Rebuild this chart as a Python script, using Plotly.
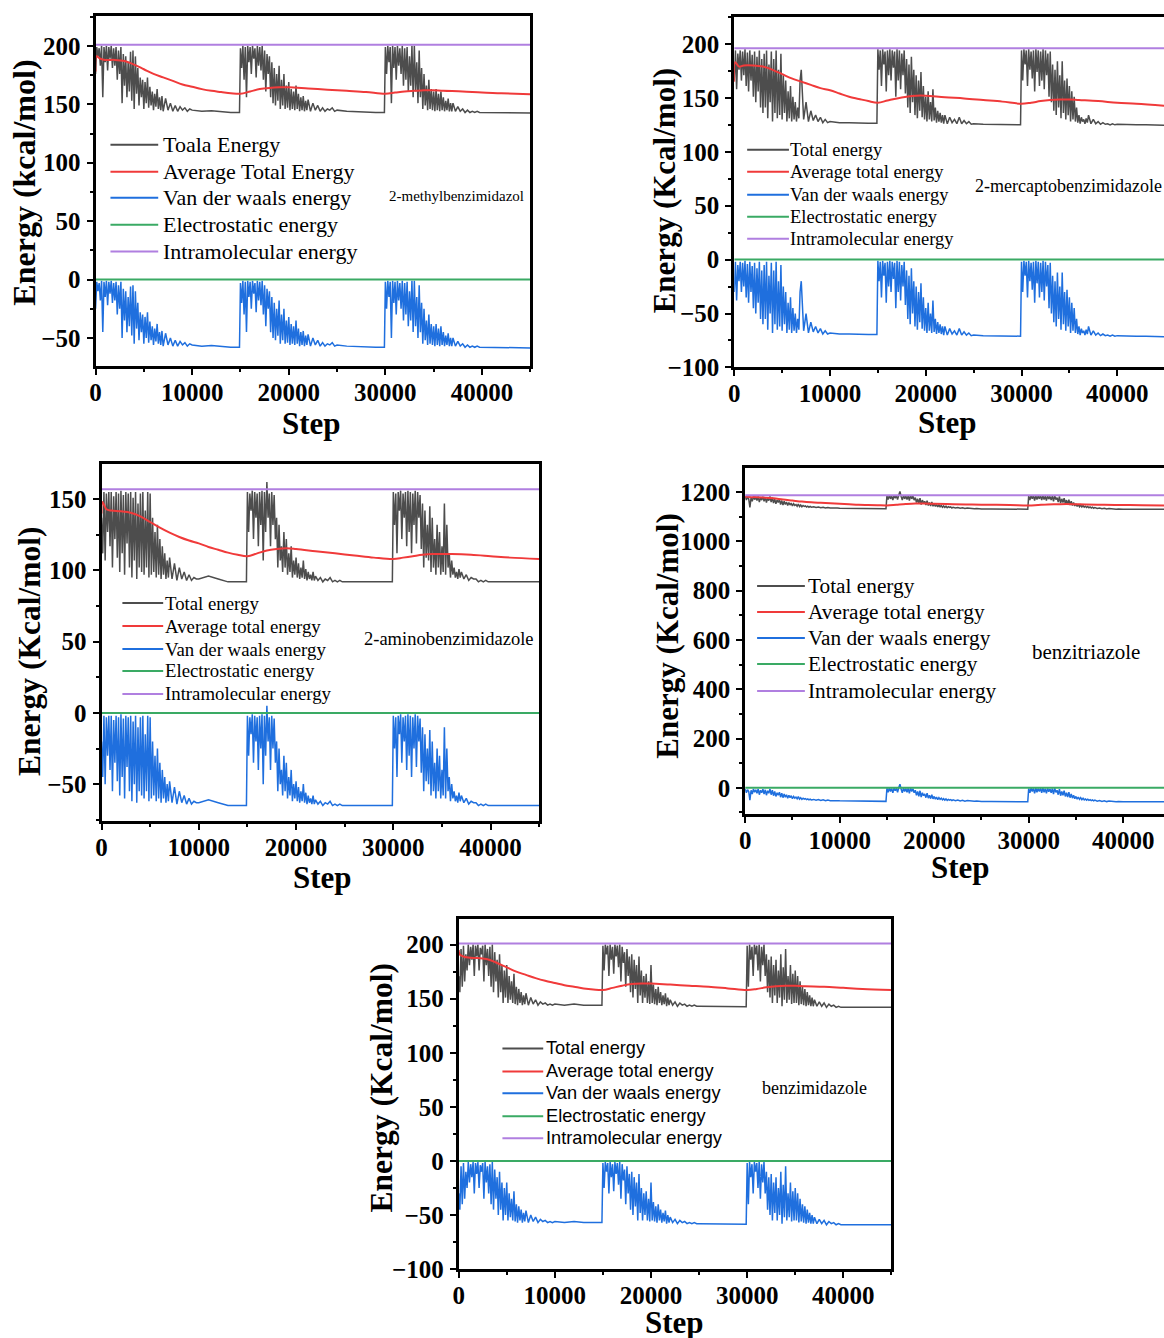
import plotly.graph_objects as go

W, H = 1164, 1338          # reference canvas (all positions below are in these pixels)
FIG_H = 1350               # page height used so the photographed canvas lands on 1338 rows

# ---------------- data ----------------
cycle_starts = [0, 15000, 30000]
noisy_offsets = list(range(0, 7000, 125)) + list(range(7000, 10000, 250))
flat_offsets = [10000, 11000, 12000, 13000, 14000, 14900]
steps = [c + o for c in cycle_starts for o in noisy_offsets + flat_offsets] + [45000]

avg_steps = [0, 100, 500, 1000, 2000, 3000, 4000, 5000, 6000, 7000, 8000, 9000, 10000,
             11000, 12000, 13000, 14000, 15000, 16000, 17000, 18000, 19000, 20000, 22000,
             24000, 26000, 28000, 30000, 31000, 32000, 33000, 34000, 35000, 36000, 38000,
             40000, 42000, 45000]
const_steps = [0, 45000]

# Van der Waals energy (kcal/mol), read per panel
vdw_p1 = [
    -25, -2, -10, -3, -18, -1, -45, -2, -15, -1, -22, -2, -12, -1, -20, -3,
    -18, -2, -30, -5, -25, -2, -50, -8, -35, -10, -45, -15, -40, -6, -48, -5,
    -55, -10, -42, -20, -52, -28, -45, -30, -55, -32, -50, -28, -54, -36, -52, -40,
    -56, -42, -53, -38, -55, -45, -56, -44,
    -57, -46, -56, -50, -57, -52, -57, -53, -56, -54, -57, -55,
    -56, -57, -56.5, -57.5, -58, -58,
    -3, -20, -1, -30, -2, -45, -1, -15, -2, -25, -1, -12, -3, -28, -1, -18,
    -2, -22, -1, -30, -5, -40, -8, -25, -10, -45, -15, -50, -20, -52, -25, -48,
    -18, -55, -30, -52, -25, -55, -35, -54, -32, -56, -38, -55, -40, -56, -35, -55,
    -42, -57, -45, -56, -44, -57, -48, -56,
    -47, -57, -50, -56, -52, -57, -54, -57, -55, -56, -54, -57,
    -56, -57, -57.5, -58, -58, -58,
    -2, -25, -1, -15, -2, -50, -1, -20, -2, -30, -1, -18, -3, -25, -1, -35,
    -3, -30, -2, -40, -10, -35, -1, -45, -1, -40, -15, -50, -5, -45, -20, -55,
    -25, -52, -35, -56, -30, -55, -38, -56, -40, -57, -38, -56, -42, -57, -40, -56,
    -45, -57, -48, -56, -46, -57, -50, -57,
    -50, -57, -53, -57, -55, -58, -56, -58, -57, -58, -57, -58,
    -58, -58, -58.5, -58.5, -58.5, -58.5,
    -58.5]
vdw_p2 = [
    -30, -2, -38, -5, -20, -2, -30, -3, -25, -1, -35, -4, -40, -2, -30, -6,
    -45, -3, -50, -8, -40, -2, -55, -10, -60, -5, -55, -2, -65, -15, -50, -3,
    -68, -10, -60, -2, -65, -20, -62, -5, -66, -25, -60, -30, -68, -40, -65, -35,
    -68, -45, -66, -50, -68, -55, -65, -30,
    -20, -66, -50, -68, -58, -67, -62, -68, -64, -69, -66, -69,
    -68, -69, -69, -69.5, -69.5, -69.5,
    -1, -20, -2, -35, -1, -15, -3, -40, -2, -25, -1, -30, -2, -18, -3, -45,
    -1, -30, -2, -38, -5, -25, -2, -42, -10, -55, -15, -60, -8, -50, -20, -62,
    -25, -65, -30, -58, -22, -64, -35, -66, -45, -68, -40, -66, -50, -68, -38, -67,
    -55, -69, -58, -68, -60, -69, -62, -70,
    -62, -70, -64, -69, -66, -70, -64, -70, -67, -70, -68, -70.5,
    -70, -70.5, -70.5, -71, -71, -71,
    -2, -30, -1, -15, -2, -35, -1, -20, -3, -28, -2, -40, -1, -22, -2, -35,
    -3, -30, -1, -38, -2, -25, -5, -45, -3, -50, -15, -58, -20, -62, -12, -55,
    -25, -65, -12, -60, -30, -66, -28, -62, -35, -68, -40, -66, -45, -68, -55, -69,
    -62, -70, -64, -68, -66, -70, -65, -69,
    -62, -70, -66, -70, -68, -70.5, -69, -70.5, -70, -71, -70, -71,
    -70.5, -71, -71, -71, -71.5, -71.5,
    -71.5]
vdw_p3 = [
    -20, -45, -2, -50, -3, -30, -2, -40, -2, -55, -5, -35, -2, -48, -3, -58,
    -1, -45, -4, -60, -2, -38, -3, -55, -2, -62, -6, -50, -2, -63, -10, -55,
    -3, -58, -2, -60, -15, -55, -2, -62, -3, -60, -20, -58, -30, -62, -25, -60,
    -35, -63, -40, -60, -45, -63, -50, -62,
    -48, -63, -52, -64, -55, -63, -58, -64, -60, -64, -62, -63,
    -63, -61, -63, -65, -65, -65,
    -2, -30, -3, -15, -1, -35, -2, -20, -3, -40, -2, -25, -1, -50, -2, -30,
    5, -20, -3, -40, -2, -25, -4, -35, -20, -55, -25, -50, -40, -58, -30, -55,
    -35, -60, -45, -58, -40, -62, -50, -60, -48, -62, -52, -63, -55, -62, -50, -63,
    -56, -64, -58, -63, -60, -64, -58, -64,
    -61, -64, -62, -65, -63, -64, -62, -65, -64, -65, -64, -65,
    -65, -65, -65, -65, -65, -65,
    -2, -25, -3, -45, -2, -15, -1, -35, -3, -20, -2, -40, -1, -30, -2, -45,
    -3, -25, -1, -38, -2, -20, -4, -42, -10, -55, -15, -48, -25, -50, -12, -58,
    -20, -55, -35, -60, -25, -55, -30, -60, -40, -58, -10, -60, -25, -55, -45, -62,
    -50, -60, -55, -62, -58, -63, -56, -62,
    -58, -63, -60, -64, -62, -63, -63, -65, -64, -65, -64, -65,
    -65, -65, -65, -65, -65, -65,
    -65]
vdw_p4 = [
    -5, -20, -8, -15, -50, -10, -25, -5, -18, -8, -22, -5, -28, -10, -20, -6,
    -25, -8, -30, -12, -22, -5, -28, -10, -32, -15, -35, -20, -30, -18, -38, -22,
    -40, -25, -38, -28, -42, -30, -40, -32, -44, -35, -42, -38, -45, -36, -46, -40,
    -47, -42, -46, -44, -48, -45, -49, -46,
    -49, -47, -50, -48, -51, -49, -52, -50, -52, -51, -53, -52,
    -53, -54, -54, -55, -55, -55,
    -2, -18, 0, -15, -3, -20, -1, -12, -2, -18, 0, 15, -5, -20, -1, -15,
    -3, -18, -2, -22, 0, -15, -4, -20, -10, -30, -15, -35, -12, -38, -20, -32,
    -25, -40, -22, -42, -30, -44, -28, -45, -35, -46, -38, -48, -40, -47, -42, -49,
    -44, -50, -45, -51, -47, -50, -48, -52,
    -49, -52, -50, -53, -51, -54, -52, -54, -53, -55, -54, -56,
    -56, -56, -57, -57, -57, -57,
    -3, -20, -1, -15, -2, -22, -1, -18, -3, -15, -2, -20, -1, -18, -4, -22,
    -2, -16, -5, -20, -3, -25, -2, -18, -10, -28, -5, -32, -15, -30, -12, -35,
    -20, -38, -18, -40, -25, -42, -30, -44, -35, -46, -38, -47, -40, -48, -42, -49,
    -45, -50, -46, -51, -48, -52, -49, -53,
    -50, -54, -52, -55, -53, -56, -54, -56, -55, -57, -56, -57,
    -57, -57, -57, -57, -57, -57,
    -57]
vdw_p5 = [
    -30, -45, -5, -40, -2, -35, -10, -25, -1, -20, -3, -15, -1, -30, -2, -12,
    -1, -25, -4, -10, -2, -35, -1, -20, -5, -30, -3, -40, -1, -45, -8, -35,
    -15, -50, -10, -45, -20, -55, -25, -50, -20, -55, -30, -52, -35, -55, -28, -56,
    -40, -57, -42, -55, -45, -57, -48, -56,
    -46, -57, -50, -56, -52, -57, -54, -56, -55, -57, -56, -57,
    -56, -57, -56, -57, -57, -57,
    -2, -25, -1, -10, -2, -30, -1, -15, -3, -28, -1, -12, -2, -22, -1, -35,
    -3, -18, -8, -40, -5, -30, -12, -45, -10, -50, -15, -42, -20, -55, -12, -48,
    -25, -55, -30, -50, -28, -55, -35, -56, -20, -55, -38, -56, -42, -57, -40, -55,
    -45, -57, -48, -56, -46, -58, -50, -57,
    -52, -57, -54, -58, -55, -57, -56, -58, -57, -58, -57, -58,
    -58, -58, -58.5, -58.5, -58.5, -58.5,
    -2, -40, -1, -15, -3, -30, -1, -10, -2, -25, -1, -35, -3, -20, -1, -30,
    -10, -45, -15, -50, -12, -55, -20, -48, -15, -55, -25, -50, -10, -58, -22, -52,
    -5, -55, -30, -52, -20, -56, -28, -55, -25, -55, -30, -57, -35, -56, -40, -57,
    -42, -58, -45, -57, -48, -58, -50, -58,
    -52, -58, -54, -58, -55, -59, -56, -58, -57, -59, -58, -59,
    -59, -59, -59, -59, -59, -59,
    -59]

# Average total energy per panel
avg_p1 = [178, 191, 189, 188, 188, 187, 184, 180, 176, 173, 170, 167, 165, 163, 161.5, 160.5, 159.5,
          159, 161, 163, 164, 164.5, 164.5, 163.5, 162.5, 161.5, 160.5, 159, 160, 161, 161.5, 162, 162,
          161.5, 161, 160, 159.5, 158.5]
avg_p2 = [165, 183, 179, 180, 180, 179, 176, 172, 168, 165, 162, 159, 157, 154, 151, 149, 147, 145.5,
          147.5, 149.5, 151, 152, 152, 150.5, 149.5, 148, 146.5, 144.5, 145.5, 147, 148, 148.5, 148.5,
          148, 147, 145.5, 144.5, 142.5]
avg_p3 = [140, 148, 143, 142, 141.5, 140.5, 138, 134, 130, 126.5, 123.5, 121, 119, 116.5, 114.5, 112.5,
          111, 110, 112, 114, 115, 115.5, 115, 113.5, 112, 110.5, 109, 108, 109, 110, 111, 111.5, 111.5,
          111.5, 111, 110, 109, 108]
avg_p4 = [1178, 1182, 1180, 1180, 1178, 1175, 1170, 1166, 1162, 1159, 1157, 1155, 1153, 1151, 1149,
          1148, 1147, 1146, 1149, 1152, 1154, 1154, 1153, 1151, 1150, 1149, 1148, 1146, 1148, 1150, 1151,
          1152, 1151, 1150, 1149, 1148, 1147, 1146]
avg_p5 = [195, 191, 189, 188, 187.5, 186.5, 183, 179, 175, 172, 169, 166.5, 164.5, 162.5, 161, 159.5,
          158.5, 158, 160, 162, 163.5, 164, 164, 163, 162, 161, 159.5, 158, 159, 160.5, 161.5, 162, 162,
          161.5, 161, 160, 159, 158]

# constant components
intra_vals = [201, 196, 157, 1188, 201]
elec_vals = [0, 0, 0, 0, 0]

labels_p1 = ["Toala Energy", "Average Total Energy", "Van der waals energy",
             "Electrostatic energy", "Intramolecular energy"]
labels_std = ["Total energy", "Average total energy", "Van der waals energy",
              "Electrostatic energy", "Intramolecular energy"]
compound_names = ["2-methylbenzimidazol", "2-mercaptobenzimidazole", "2-aminobenzimidazole",
                  "benzitriazole", "benzimidazole"]
y_titles = ["Energy (kcal/mol)", "Energy (Kcal/mol)", "Energy (Kcal/mol)",
            "Energy (Kcal/mol)", "Energy (Kcal/mol)"]
y_dticks = [50, 50, 50, 200, 50]

vdw_all = [vdw_p1, vdw_p2, vdw_p3, vdw_p4, vdw_p5]
avg_all = [avg_p1, avg_p2, avg_p3, avg_p4, avg_p5]

# ---------------- layout geometry (reference pixels) ----------------
SERIF = "Liberation Serif"
SANS = "Liberation Sans"
colors = ["#4d4d4d", "#f03a3a", "#1f6fde", "#3aaa64", "#b07fe0"]

panels = [
    dict(box=(90, 527, 16, 367), xr=[0, 45000], yr=[-74.4, 225.6], right=True,
         leg_line=(105, 153), leg_text=156, leg_rows=[145, 172, 198, 225, 252], legfont=22,
         legfam=SERIF, name=(453, 196, "center"), namesize=15, ytitle=(18, 183), ysize=32,
         xtitle=(307, 424, "middle", 0)),
    dict(box=(732, 1164, 17, 368), xr=[0, 44880], yr=[-100, 225], right=False,
         leg_line=(745, 787), leg_text=786, leg_rows=[150, 172, 195, 217, 239], legfont=18.5,
         legfam=SERIF, name=(1164, 186, "right"), namesize=18, ytitle=(662, 191), ysize=31,
         xtitle=(946, 423, "middle", 0)),
    dict(box=(96, 536, 465, 822), xr=[0, 45000], yr=[-75.7, 174.5], right=True,
         leg_line=(117, 158), leg_text=158, leg_rows=[604, 627, 650, 672, 695], legfont=18.8,
         legfam=SERIF, name=(445, 640, "center"), namesize=18.5, ytitle=(23, 652), ysize=31.5,
         xtitle=(318, 879, "middle", 0)),
    dict(box=(743, 1164, 469, 815), xr=[0, 44316], yr=[-105.4, 1297], right=False,
         leg_line=(755, 803), leg_text=804, leg_rows=[587, 613, 639, 665, 692], legfont=21.3,
         legfam=SERIF, name=(1086, 653, "center"), namesize=21, ytitle=(664, 637), ysize=31,
         xtitle=(959, 869, "middle", 0)),
    dict(box=(455, 890, 920, 1271), xr=[0, 45000], yr=[-100, 224], right=True,
         leg_line=(499, 540), leg_text=541, leg_rows=[1050, 1073, 1095, 1118, 1140], legfont=18.2,
         legfam=SANS, name=(813, 1090, "center"), namesize=18, ytitle=(377, 1090), ysize=31.5,
         xtitle=(672, 1338, "bottom", -6)),
]

fig = go.Figure()
annotations = []
shapes = []


def px(x):
    return x / W


def py(y):
    return 1 - y / H


for i, p in enumerate(panels):
    k = i + 1
    xa = "x" if k == 1 else f"x{k}"
    ya = "y" if k == 1 else f"y{k}"
    names = labels_p1 if k == 1 else labels_std
    vdw = vdw_all[i]
    total = [v + elec_vals[i] + intra_vals[i] for v in vdw]

    series = [
        (steps, total, colors[0], 1.5, "linear"),
        (avg_steps, avg_all[i], colors[1], 2, "spline"),
        (steps, vdw, colors[2], 1.5, "linear"),
        (const_steps, [elec_vals[i]] * 2, colors[3], 2, "linear"),
        (const_steps, [intra_vals[i]] * 2, colors[4], 2, "linear"),
    ]
    for (xs, ys, col, lw, shp), nm in zip(series, names):
        fig.add_trace(go.Scatter(x=xs, y=ys, mode="lines", name=nm, showlegend=False,
                                 line=dict(color=col, width=lw, shape=shp),
                                 xaxis=xa, yaxis=ya, hoverinfo="skip"))

    x0, x1, y0, y1 = p["box"]
    tickfont = dict(family=SERIF, size=25, color="black", weight="bold")
    axis_common = dict(showgrid=False, zeroline=False, showline=True, linecolor="black",
                       linewidth=3, ticks="outside", ticklen=6, tickwidth=2, tickcolor="black",
                       tickfont=tickfont)
    fig.layout["xaxis" if k == 1 else f"xaxis{k}"] = dict(
        domain=[px(x0), px(x1)], range=p["xr"], anchor=ya, mirror=True,
        tick0=0, dtick=10000, tickformat="d", ticklabelstandoff=-4,
        minor=dict(dtick=5000, ticks="outside", ticklen=3, tickwidth=2, tickcolor="black"),
        **axis_common)
    fig.layout["yaxis" if k == 1 else f"yaxis{k}"] = dict(
        domain=[py(y1), py(y0)], range=p["yr"], anchor=xa, mirror=p["right"],
        tick0=0, dtick=y_dticks[i], ticklabelstandoff=1,
        minor=dict(dtick=y_dticks[i] / 2, ticks="outside", ticklen=3, tickwidth=2,
                   tickcolor="black"),
        **axis_common)

    # legend drawn as line samples + text labels
    lx0, lx1 = p["leg_line"]
    for row, nm, col in zip(p["leg_rows"], names, colors):
        shapes.append(dict(type="line", xref="paper", yref="paper",
                           x0=px(lx0), x1=px(lx1), y0=py(row), y1=py(row),
                           line=dict(color=col, width=2)))
        annotations.append(dict(text=nm, x=px(p["leg_text"]), y=py(row), xref="paper",
                                yref="paper", showarrow=False, xanchor="left",
                                yanchor="middle",
                                font=dict(family=p["legfam"], size=p["legfont"],
                                          color="black")))

    nx, ny, nanchor = p["name"]
    annotations.append(dict(text=compound_names[i], x=px(nx), y=py(ny),
                            xref="paper", yref="paper", showarrow=False,
                            xanchor=nanchor, yanchor="middle",
                            font=dict(family=SERIF, size=p["namesize"], color="black")))
    tx, ty = p["ytitle"]
    annotations.append(dict(text=y_titles[i], x=px(tx), y=py(ty),
                            xref="paper", yref="paper", showarrow=False,
                            textangle=-90, xanchor="center", yanchor="middle",
                            font=dict(family=SERIF, size=p["ysize"], color="black",
                                      weight="bold")))
    sx, sy, sanchor, sshift = p["xtitle"]
    annotations.append(dict(text="Step", x=px(sx), y=py(sy), yshift=sshift,
                            xref="paper", yref="paper", showarrow=False,
                            xanchor="center", yanchor=sanchor,
                            font=dict(family=SERIF, size=31, color="black", weight="bold")))

fig.update_layout(width=W, height=FIG_H, margin=dict(l=0, r=0, t=0, b=0),
                  paper_bgcolor="white", plot_bgcolor="white", showlegend=False,
                  annotations=annotations, shapes=shapes)

page_fix = """
document.documentElement.style.margin = '0';
document.body.style.margin = '0';
document.documentElement.style.overflow = 'hidden';
"""
fig.write_html("out.html", config={"displayModeBar": False}, post_script=page_fix)
